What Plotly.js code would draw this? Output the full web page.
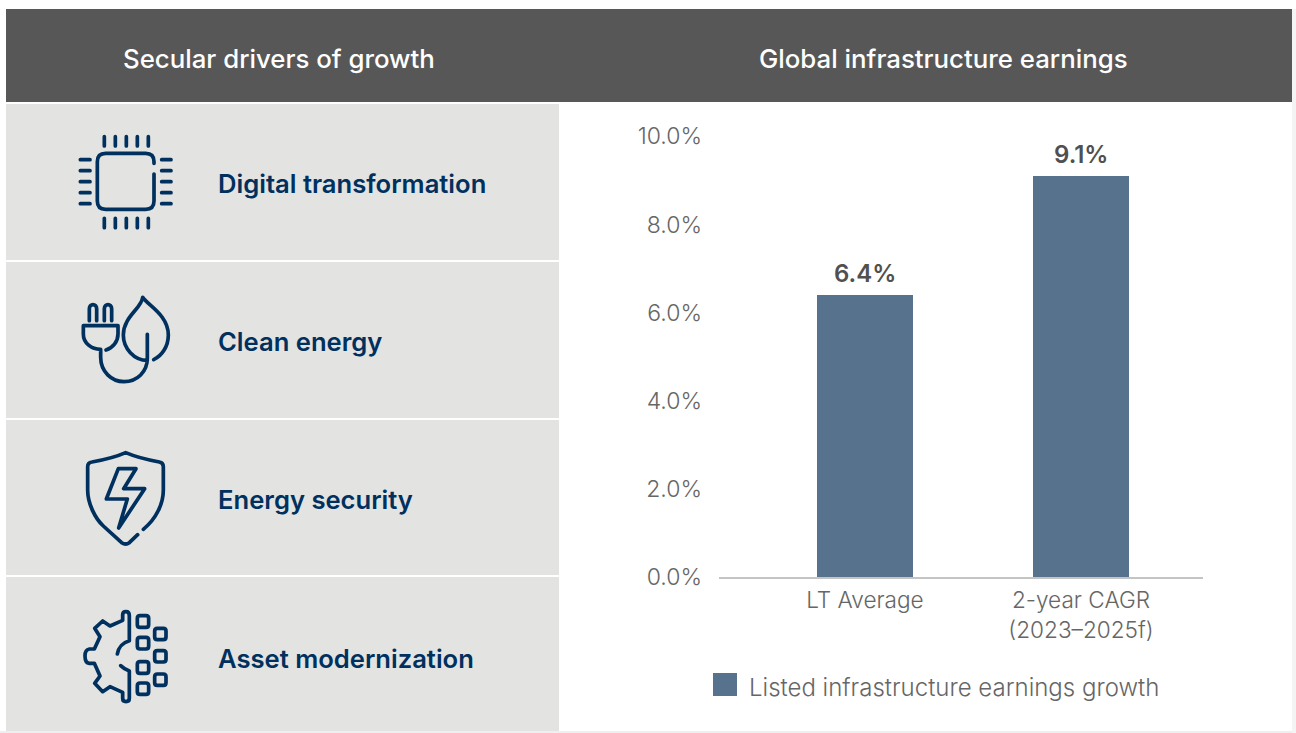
<!DOCTYPE html>
<html>
<head>
<meta charset="utf-8">
<script src="https://cdn.plot.ly/plotly-3.0.1.min.js"></script>
<style>
html,body{margin:0;padding:0;background:#fff}
#chart{width:1296px;height:733px}
.shapelayer path{stroke-linecap:round;stroke-linejoin:round}
</style>
</head>
<body>
<div id="chart"></div>
<script>
// Earnings growth values, in percent
const categories = ["LT Average", "2-year CAGR<br>(2023–2025f)"];
const earningsGrowth = [6.4, 9.1];
const seriesName = "Listed infrastructure earnings growth";
const yTicks = [0, 2, 4, 6, 8, 10];
const driverLabels = ["Digital transformation", "Clean energy", "Energy security", "Asset modernization"];
const headerLabels = ["Secular drivers of growth", "Global infrastructure earnings"];

const W = 1296, H = 733;
const NAVY = "#00305e", SLATE = "#57728c", GREY = "#666666";
const SANS = 'Inter, "Liberation Sans", Arial, sans-serif';

const px = x => x / W;
const py = y => 1 - y / H;

function rect(x0, y0, x1, y1, fill) {
  return {type: "rect", xref: "paper", yref: "paper", layer: "below",
    x0: px(x0), x1: px(x1), y0: py(y1), y1: py(y0),
    fillcolor: fill, line: {width: 0}};
}

// Icon outlines are authored on a 3x grid around an origin, then moved to paper space
function icon(d, ox, oy, width) {
  const path = d.replace(/(-?[\d.]+)[ ,](-?[\d.]+)/g,
    (m, a, b) => px(ox + a / 3).toFixed(5) + "," + py(oy + b / 3).toFixed(5));
  return {type: "path", xref: "paper", yref: "paper", layer: "above", path,
    fillcolor: "rgba(0,0,0,0)", line: {color: NAVY, width: width || 3.7}};
}

function box(x0, y0, x1, y1, r) {
  return `M${x0 + r},${y0} L${x1 - r},${y0} Q${x1},${y0} ${x1},${y0 + r} L${x1},${y1 - r} Q${x1},${y1} ${x1 - r},${y1} L${x0 + r},${y1} Q${x0},${y1} ${x0},${y1 - r} L${x0},${y0 + r} Q${x0},${y0} ${x0 + r},${y0} Z`;
}

// Chip
const chipPins = [];
[133, 166, 199, 232, 265].forEach(v => {
  chipPins.push(`M${v},50 L${v},78`, `M${v},295 L${v},323`);
});
[119, 152, 185, 218, 251].forEach(v => {
  chipPins.push(`M61,${v} L90,${v}`, `M305,${v} L333,${v}`);
});
const chip = "M282,130 L282,125 Q282,100 257,100 L137,100 Q112,100 112,125 L112,243 Q112,268 137,268 L257,268 Q282,268 282,243 L282,162 " + chipPins.join(" ");

// Plug and leaf
const plug = [
  "M88,122 L88,86 C88,70 110,70 110,86 L110,122",
  "M133,122 L133,86 C133,70 155,70 155,86 L155,122",
  "M70,137 L174,137 L174,162 C174,185 158,204 138,210",
  "M70,137 L70,162 C70,190 95,208 122,208 L122,232 C122,275 155,305 192,305 C232,305 262,275 262,235 L262,163",
  "M262,241 C222,241 190,205 190,165 C190,110 245,85 248,52 C262,75 325,105 325,165 C325,200 305,228 281,239"
].join(" ");

// Shield and lightning bolt
const shield = [
  "M233,284 L208,308 Q197,316 185,308 L130,258 C105,235 83,190 83,150 L83,80 Q83,68 96,66 C130,60 170,50 197,38 C225,50 265,60 298,66 Q310,68 310,80 L310,150 C310,190 290,235 250,268",
  "M175,86 L228,86 L191,146 L254,146 L176,264 L202,177 L139,177 Z"
].join(" ");

// Half gear with circuit blocks
const gear = [
  "M172,177 C175,157 190,142 208,137 L208,62 Q208,50 198,50 Q188,50 188,60 L188,76 L150,93 L128,78 L104,100 L120,125 L103,162 L88,162 Q75,164 75,183 Q75,204 88,205 L103,205 L120,243 L104,265 L128,290 L150,275 L188,292 L188,310 Q188,320 198,320 Q208,320 208,310 L208,228 Q192,222 182,212",
  box(232, 62, 266, 97, 8), box(232, 127, 266, 162, 8),
  box(232, 200, 266, 235, 8), box(232, 264, 266, 298, 8),
  box(284, 100, 318, 134, 8), box(284, 167, 318, 201, 8), box(284, 237, 318, 271, 8)
].join(" ");

const shapes = [
  rect(6, 9, 1292, 102, "#575757"),
  rect(6, 104, 559, 260, "#e3e3e1"),
  rect(6, 262, 559, 418, "#e3e3e1"),
  rect(6, 420, 559, 575, "#e3e3e1"),
  rect(6, 577, 559, 731, "#e3e3e1"),
  rect(0, 731, 1296, 733, "#efefef"),
  rect(1292, 9, 1296, 733, "#f4f4f4"),
  // oversized key swatch sits behind the legend's own marker
  rect(713, 673, 737, 696, SLATE),
  icon(chip, 60, 120),
  icon(plug, 60, 280),
  icon(shield, 60, 440),
  icon(gear, 60, 595)
];

function label(text, x, y, size, color, weight, anchor) {
  return {text, xref: "paper", yref: "paper", x: px(x), y: py(y),
    xanchor: anchor || "center", yanchor: "middle", showarrow: false,
    font: {family: SANS, size, color, weight: weight || 400}};
}

const annotations = [
  label(headerLabels[0], 279, 59, 25.8, "#ffffff", 500),
  label(headerLabels[1], 943, 59, 25.8, "#ffffff", 500)
];
[183, 341, 499, 658].forEach((y, i) => {
  annotations.push(label(driverLabels[i], 216, y, 25.6, NAVY, 600, "left"));
});
// Value labels above each bar, placed from the same values as the bars
earningsGrowth.forEach((v, i) => {
  annotations.push({
    text: v.toFixed(1) + "%", xref: "x", yref: "y", x: categories[i], y: v,
    yanchor: "middle", xanchor: "center", yshift: 22, showarrow: false,
    font: {family: SANS, size: 24, color: "#505050", weight: 600}
  });
});

const trace = {
  type: "bar",
  x: categories,
  y: earningsGrowth,
  name: seriesName,
  width: 96 / 216,
  marker: {color: SLATE},
  hoverinfo: "x+y",
  showlegend: true
};

const layout = {
  width: W, height: H,
  margin: {l: 0, r: 0, t: 0, b: 0, pad: 0, autoexpand: false},
  paper_bgcolor: "#ffffff",
  plot_bgcolor: "rgba(0,0,0,0)",
  font: {family: SANS, color: GREY},
  xaxis: {
    domain: [px(719), px(1203)],
    type: "category",
    range: [(719 - 865) / 216, (1203 - 865) / 216],
    showgrid: false, zeroline: false,
    showline: true, linecolor: "#c4c4c4", linewidth: 2,
    ticks: "", ticklabelstandoff: 2,
    tickfont: {family: SANS, size: 22.6, color: GREY, weight: 300},
    fixedrange: true
  },
  yaxis: {
    domain: [py(577), py(136.4)],
    range: [0, 10],
    tickvals: yTicks,
    ticktext: yTicks.map(v => v.toFixed(1) + "%"),
    showgrid: false, zeroline: false, showline: false,
    ticks: "", ticklabelstandoff: 16,
    tickfont: {family: SANS, size: 23, color: GREY, weight: 300},
    fixedrange: true
  },
  showlegend: true,
  legend: {
    x: px(709), y: py(687.5), xanchor: "left", yanchor: "middle",
    bgcolor: "rgba(0,0,0,0)", borderwidth: 0,
    font: {family: SANS, size: 24, color: GREY, weight: 300},
    itemwidth: 30, itemclick: false, itemdoubleclick: false
  },
  shapes, annotations
};

Plotly.newPlot("chart", [trace], layout, {displayModeBar: false, staticPlot: true});
</script>
</body>
</html>
